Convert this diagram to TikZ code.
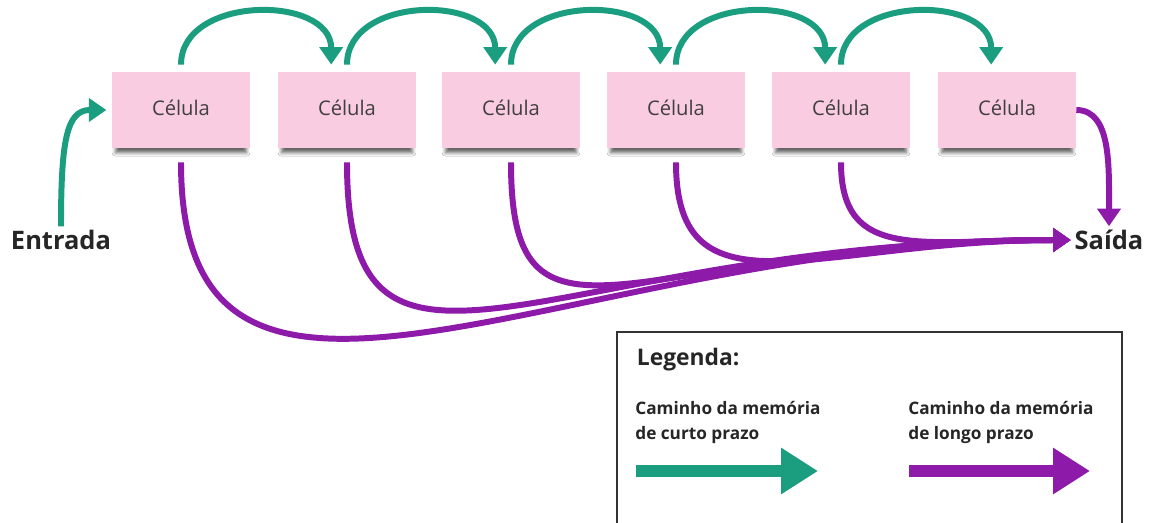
\documentclass[tikz,border=0pt]{standalone}
\usepackage{fontspec}
\setmainfont{Open Sans}
\usetikzlibrary{arrows.meta,shadows.blur}
\definecolor{verdecurto}{RGB}{27,158,128}
\definecolor{roxolongo}{RGB}{142,26,170}
\definecolor{rosacelula}{RGB}{250,204,225}

\begin{document}
\begin{tikzpicture}[x=0.02cm,y=0.02cm,
    celula/.style={fill=rosacelula, minimum width=2.76cm, minimum height=1.52cm,
        text=black!75, font=\fontsize{11.5}{14}\selectfont,
        blur shadow={shadow xshift=0pt, shadow yshift=-4pt, shadow scale=0.95,
            shadow blur steps=6, shadow blur radius=2pt, shadow opacity=60}},
    rotulo/.style={text=black!85, inner sep=2pt, font=\fontsize{14.5}{17}\selectfont\bfseries},
    caminhocurto/.style={draw=verdecurto, line width=3.4pt, -{Triangle[length=10pt,width=13pt]}},
    caminholongo/.style={draw=roxolongo, line width=3.4pt, -{Triangle[length=10pt,width=13pt]}},
    legcurto/.style={draw=verdecurto, line width=6.8pt, -{Triangle[length=21pt,width=25pt]}},
    leglongo/.style={draw=roxolongo, line width=6.8pt, -{Triangle[length=21pt,width=25pt]}},
    legtexto/.style={text=black!85, inner sep=0pt, align=left, font=\fontsize{9.8}{14}\selectfont\bfseries}]
            \useasboundingbox (0,0) rectangle (1150,-522);
            \fill[white] (0,0) rectangle (1150,-522);
            \node[celula] (c1) at (181,-110) {\raisebox{2pt}{Célula}};
            \node[celula] (c2) at (347,-110) {\raisebox{2pt}{Célula}};
            \node[celula] (c3) at (511,-110) {\raisebox{2pt}{Célula}};
            \node[celula] (c4) at (676,-110) {\raisebox{2pt}{Célula}};
            \node[celula] (c5) at (841,-110) {\raisebox{2pt}{Célula}};
            \node[celula] (c6) at (1007,-110) {\raisebox{2pt}{Célula}};
            \node[rotulo] (entrada) at (61,-240) {Entrada};
            \node[rotulo] (saida) at (1109,-240) {Saída};
            % memoria de curto prazo
            \draw[caminhocurto] (entrada.north) .. controls +(0,85) and +(-40,0) .. ([xshift=-3pt]c1.west);
            \draw[caminhocurto] ([yshift=4pt]c1.north) .. controls +(0,70) and +(0,70) .. ([xshift=-9pt,yshift=4pt]c2.north);
            \draw[caminhocurto] ([yshift=4pt]c2.north) .. controls +(0,70) and +(0,70) .. ([xshift=-9pt,yshift=4pt]c3.north);
            \draw[caminhocurto] ([yshift=4pt]c3.north) .. controls +(0,70) and +(0,70) .. ([xshift=-9pt,yshift=4pt]c4.north);
            \draw[caminhocurto] ([yshift=4pt]c4.north) .. controls +(0,70) and +(0,70) .. ([xshift=-9pt,yshift=4pt]c5.north);
            \draw[caminhocurto] ([yshift=4pt]c5.north) .. controls +(0,70) and +(0,70) .. ([xshift=-9pt,yshift=4pt]c6.north);
            % memoria de longo prazo
            \draw[caminholongo] ([yshift=-8pt]c1.south) .. controls +(0,-345) and +(-500,0) .. (saida.west);
            \draw[caminholongo] ([yshift=-8pt]c2.south) .. controls +(0,-280) and +(-520,0) .. (saida.west);
            \draw[caminholongo] ([yshift=-8pt]c3.south) .. controls +(0,-220) and +(-430,0) .. (saida.west);
            \draw[caminholongo] ([yshift=-8pt]c4.south) .. controls +(0,-160) and +(-250,0) .. (saida.west);
            \draw[caminholongo] ([yshift=-8pt]c5.south) .. controls +(0,-100) and +(-150,0) .. (saida.west);
            \draw[caminholongo] (c6.east) .. controls +(35,0) and +(0,60) .. (saida.north);
            % legenda
            \draw[black!80, line width=1.2pt] (617,-332) rectangle (1122,-545);
            \node[rotulo, anchor=west, font=\fontsize{13}{16}\selectfont\bfseries] (legenda) at (633,-360) {Legenda:};
            \node[legtexto, anchor=north west] (leg1) at (635,-401) {Caminho da memória\\de curto prazo};
            \node[legtexto, anchor=north west] (leg2) at (908,-401) {Caminho da memória\\de longo prazo};
            \coordinate (g0) at (636,-471);
            \coordinate (g1) at (818,-471);
            \coordinate (p0) at (909,-471);
            \coordinate (p1) at (1090,-471);
            \draw[legcurto] (g0) -- (g1);
            \draw[leglongo] (p0) -- (p1);
        \end{tikzpicture}
\end{document}
